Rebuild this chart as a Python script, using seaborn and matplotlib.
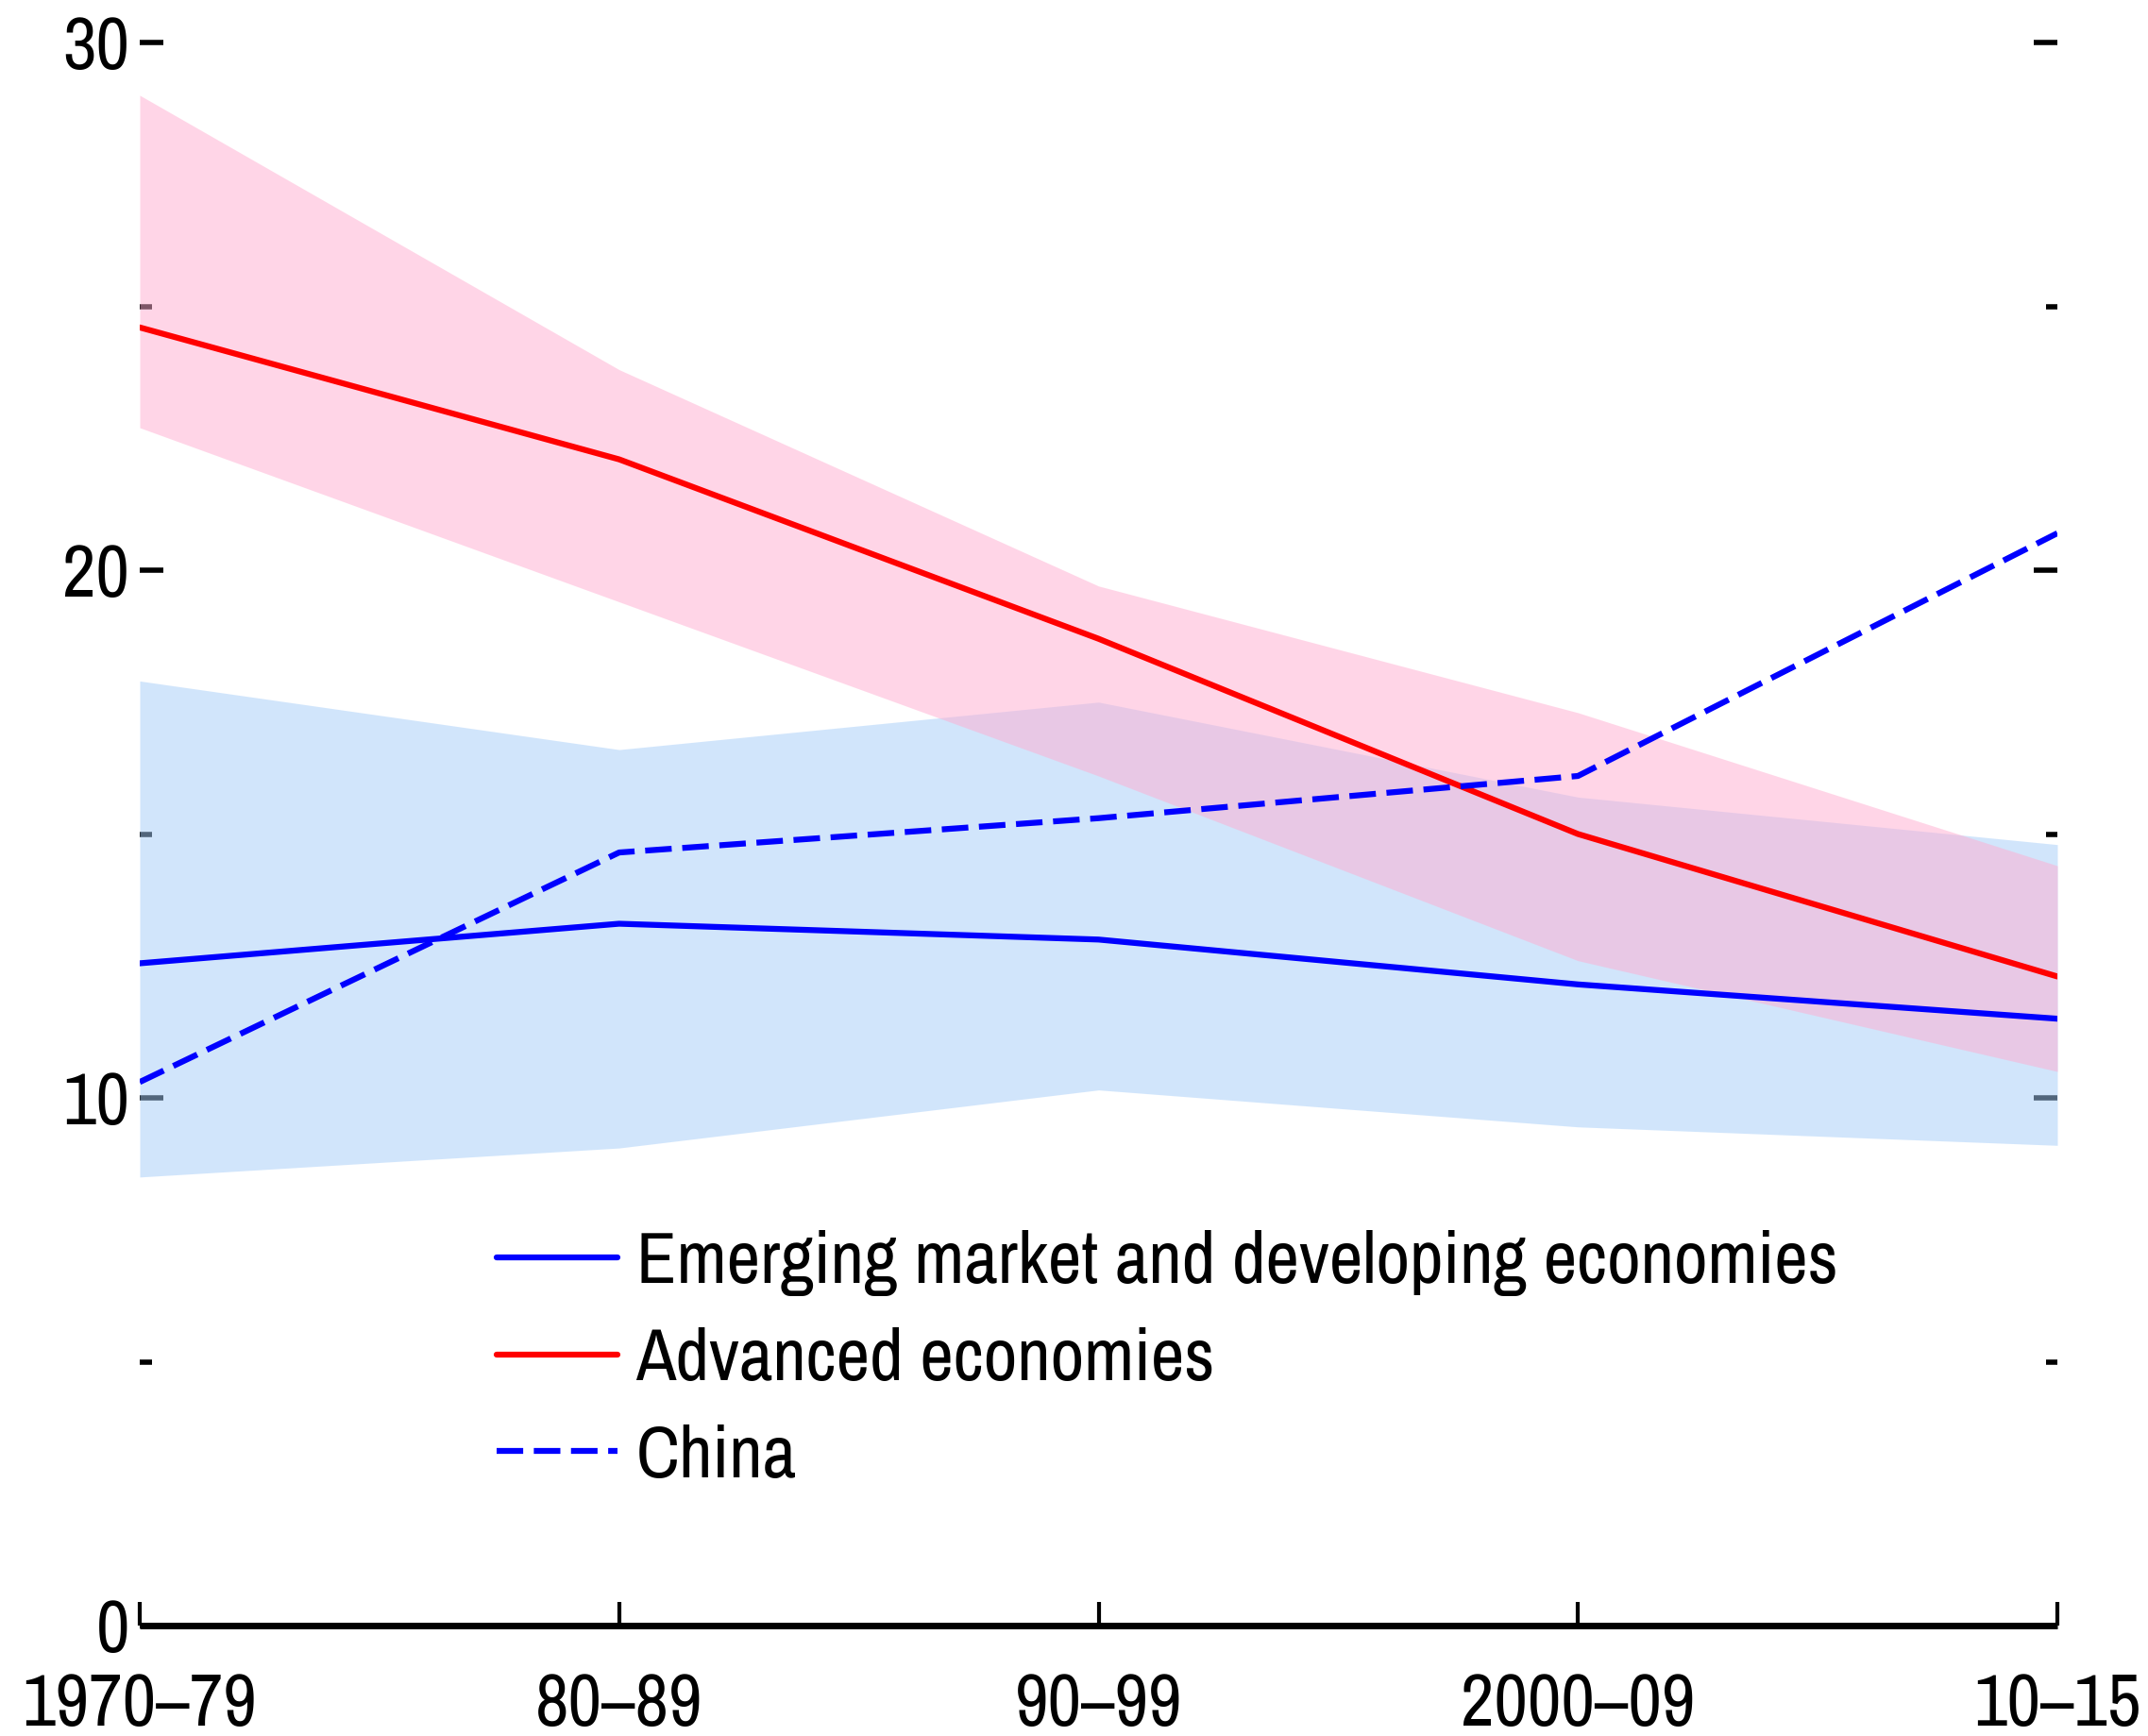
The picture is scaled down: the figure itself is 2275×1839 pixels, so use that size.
import matplotlib
matplotlib.use("Agg")
import matplotlib.pyplot as plt
from matplotlib import font_manager
import seaborn as sns
import numpy as np
from matplotlib.ticker import MultipleLocator

# decade averages with the spread band around each group
periods = ["1970–79", "80–89", "90–99", "2000–09", "10–15"]

emde = [12.55, 13.3, 13.0, 12.15, 11.5]
emde_hi = [17.9, 16.6, 17.5, 15.7, 14.8]
emde_lo = [8.5, 9.05, 10.15, 9.45, 9.1]

advanced = [24.6, 22.1, 18.7, 15.0, 12.3]
advanced_hi = [29.0, 23.8, 19.7, 17.3, 14.4]
advanced_lo = [22.7, 19.4, 16.1, 12.6, 10.5]

china = [10.3, 14.65, 15.3, 16.1, 20.7]

# look for a narrow face, the original uses a condensed one
narrow = None
for f in font_manager.fontManager.ttflist:
    if "Narrow" in f.name or "Condensed" in f.name:
        narrow = f.name
        break

sns.set_style("white")
if narrow is not None:
    plt.rcParams["font.family"] = [narrow, "DejaVu Sans"]
    fs = 56
else:
    plt.rcParams["font.family"] = ["Liberation Sans", "DejaVu Sans"]
    fs = 46
plt.rcParams["text.color"] = "black"
plt.rcParams["xtick.color"] = "black"
plt.rcParams["ytick.color"] = "black"

fig = plt.figure(figsize=(22.75, 18.39), dpi=100)
ax = fig.add_axes([148 / 2275, 117 / 1839, (2179 - 148) / 2275, (1722 - 45) / 1839])

x = np.arange(len(periods))
ax.fill_between(x, emde_lo, emde_hi, color="#a5cdf9", alpha=0.5, lw=0)
ax.fill_between(x, advanced_lo, advanced_hi, color="#ffadd1", alpha=0.5, lw=0)

sns.lineplot(x=x, y=emde, color="#0000ff", lw=4.5, ax=ax,
             label="Emerging market and developing economies")
sns.lineplot(x=x, y=advanced, color="#ff0000", lw=4.5, ax=ax,
             label="Advanced economies")
sns.lineplot(x=x, y=china, color="#0000ff", lw=4.5, ls=(0, (4.5, 1.8)), ax=ax,
             label="China")

ax.set_xlim(0, 4)
ax.set_ylim(0, 30)
for side in ["left", "top", "right"]:
    ax.spines[side].set_visible(False)
ax.spines["bottom"].set_color("black")
ax.spines["bottom"].set_linewidth(5)
ax.spines["bottom"].set_capstyle("butt")

ax.set_xticks(x, periods)
ax.tick_params(axis="x", direction="in", bottom=True, length=18, width=3,
               pad=36, labelsize=fs)
ax.yaxis.set_major_locator(MultipleLocator(10))
ax.yaxis.set_minor_locator(MultipleLocator(5))
ax.tick_params(axis="y", which="both", direction="in", left=True, right=True,
               width=4, labelsize=fs, pad=8)
ax.tick_params(axis="y", which="major", length=18)
ax.tick_params(axis="y", which="minor", length=9)

ax.legend(loc="upper left", bbox_to_anchor=(0.186, 0.250), frameon=False,
          fontsize=fs, handlelength=1.65, handletextpad=0.25, labelspacing=0.43,
          borderpad=0, borderaxespad=0)

plt.savefig("out.png", dpi=100)
